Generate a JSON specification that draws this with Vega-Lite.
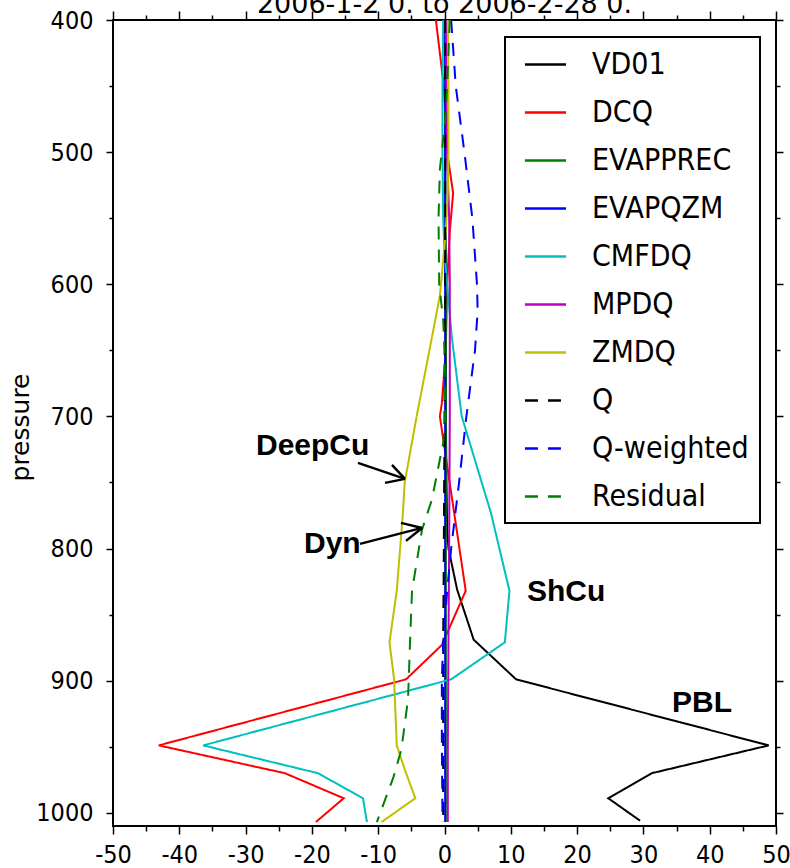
{
  "$schema": "https://vega.github.io/schema/vega-lite/v6.json",
  "width": 663,
  "height": 806,
  "autosize": {"type": "none"},
  "padding": {"left": 113, "top": 20, "right": 14, "bottom": 42},
  "background": "white",
  "title": {"text": "2006-1-2 0. to 2006-2-28 0.", "font": "DejaVu Sans", "fontSize": 27, "fontWeight": "normal", "color": "black", "anchor": "middle", "baseline": "alphabetic", "offset": 0, "dy": 32},
  "config": {
    "view": {"stroke": "black", "strokeWidth": 2},
    "axis": {"domain": false, "grid": false, "tickColor": "black", "tickWidth": 1.5, "labelColor": "black", "labelFont": "DejaVu Sans Condensed, DejaVu Sans", "labelFontSize": 25, "labelFlush": false, "labelOverlap": false},
    "legend": {"strokeColor": "black", "fillColor": "white", "padding": 11, "labelFont": "DejaVu Sans Condensed, DejaVu Sans", "labelFontSize": 30, "labelColor": "black", "labelOffset": 30, "rowPadding": 16, "symbolType": "M-1.37,0H1.37", "symbolSize": 900, "symbolStrokeWidth": 2.5, "symbolOffset": 13, "labelLimit": 400}
  },
  "datasets": {
    "profiles": [
      {"series": "VD01", "p": 400, "v": 0.0}, {"series": "VD01", "p": 450, "v": 0.1}, {"series": "VD01", "p": 500, "v": 0.1}, {"series": "VD01", "p": 550, "v": 0.1}, {"series": "VD01", "p": 600, "v": 0.2}, {"series": "VD01", "p": 650, "v": 0.2}, {"series": "VD01", "p": 700, "v": 0.2}, {"series": "VD01", "p": 750, "v": 0.3}, {"series": "VD01", "p": 786, "v": 0.4}, {"series": "VD01", "p": 800, "v": 0.6}, {"series": "VD01", "p": 831, "v": 1.9}, {"series": "VD01", "p": 869, "v": 4.4}, {"series": "VD01", "p": 899, "v": 10.8}, {"series": "VD01", "p": 949, "v": 48.9}, {"series": "VD01", "p": 970, "v": 31.3}, {"series": "VD01", "p": 989, "v": 24.7}, {"series": "VD01", "p": 1006, "v": 29.5},
      {"series": "DCQ", "p": 400, "v": -1.3}, {"series": "DCQ", "p": 450, "v": -0.1}, {"series": "DCQ", "p": 500, "v": 0.4}, {"series": "DCQ", "p": 531, "v": 1.3}, {"series": "DCQ", "p": 560, "v": 0.8}, {"series": "DCQ", "p": 600, "v": 0.4}, {"series": "DCQ", "p": 650, "v": 0.2}, {"series": "DCQ", "p": 690, "v": -0.4}, {"series": "DCQ", "p": 700, "v": -0.7}, {"series": "DCQ", "p": 832, "v": 3.2}, {"series": "DCQ", "p": 873, "v": -0.4}, {"series": "DCQ", "p": 899, "v": -5.8}, {"series": "DCQ", "p": 949, "v": -43.1}, {"series": "DCQ", "p": 970, "v": -24.1}, {"series": "DCQ", "p": 989, "v": -15.2}, {"series": "DCQ", "p": 1007, "v": -19.4},
      {"series": "EVAPPREC", "p": 400, "v": 0.1}, {"series": "EVAPPREC", "p": 500, "v": 0.1}, {"series": "EVAPPREC", "p": 600, "v": 0.2}, {"series": "EVAPPREC", "p": 700, "v": 0.2}, {"series": "EVAPPREC", "p": 800, "v": 0.2}, {"series": "EVAPPREC", "p": 900, "v": 0.2}, {"series": "EVAPPREC", "p": 949, "v": 0.2}, {"series": "EVAPPREC", "p": 1007, "v": 0.2},
      {"series": "EVAPQZM", "p": 400, "v": 0.1}, {"series": "EVAPQZM", "p": 500, "v": 0.1}, {"series": "EVAPQZM", "p": 600, "v": 0.1}, {"series": "EVAPQZM", "p": 700, "v": 0.1}, {"series": "EVAPQZM", "p": 800, "v": 0.1}, {"series": "EVAPQZM", "p": 900, "v": 0.1}, {"series": "EVAPQZM", "p": 949, "v": 0.1}, {"series": "EVAPQZM", "p": 1007, "v": 0.1},
      {"series": "CMFDQ", "p": 400, "v": -0.2}, {"series": "CMFDQ", "p": 450, "v": -0.3}, {"series": "CMFDQ", "p": 500, "v": -0.3}, {"series": "CMFDQ", "p": 550, "v": -0.2}, {"series": "CMFDQ", "p": 576, "v": 0.0}, {"series": "CMFDQ", "p": 640, "v": 1.1}, {"series": "CMFDQ", "p": 700, "v": 2.6}, {"series": "CMFDQ", "p": 773, "v": 7.0}, {"series": "CMFDQ", "p": 832, "v": 9.8}, {"series": "CMFDQ", "p": 871, "v": 9.1}, {"series": "CMFDQ", "p": 899, "v": 1.0}, {"series": "CMFDQ", "p": 949, "v": -36.4}, {"series": "CMFDQ", "p": 970, "v": -19.1}, {"series": "CMFDQ", "p": 989, "v": -12.3}, {"series": "CMFDQ", "p": 1007, "v": -11.7},
      {"series": "MPDQ", "p": 400, "v": 0.2}, {"series": "MPDQ", "p": 500, "v": 0.4}, {"series": "MPDQ", "p": 550, "v": 0.7}, {"series": "MPDQ", "p": 600, "v": 0.8}, {"series": "MPDQ", "p": 700, "v": 0.8}, {"series": "MPDQ", "p": 800, "v": 0.7}, {"series": "MPDQ", "p": 871, "v": 0.6}, {"series": "MPDQ", "p": 949, "v": 0.5}, {"series": "MPDQ", "p": 1007, "v": 0.5},
      {"series": "ZMDQ", "p": 400, "v": 0.5}, {"series": "ZMDQ", "p": 450, "v": 0.6}, {"series": "ZMDQ", "p": 500, "v": 0.6}, {"series": "ZMDQ", "p": 530, "v": 0.5}, {"series": "ZMDQ", "p": 560, "v": 0.2}, {"series": "ZMDQ", "p": 609, "v": -0.7}, {"series": "ZMDQ", "p": 700, "v": -4.2}, {"series": "ZMDQ", "p": 750, "v": -6.0}, {"series": "ZMDQ", "p": 775, "v": -6.3}, {"series": "ZMDQ", "p": 832, "v": -7.2}, {"series": "ZMDQ", "p": 871, "v": -8.3}, {"series": "ZMDQ", "p": 899, "v": -7.6}, {"series": "ZMDQ", "p": 949, "v": -7.2}, {"series": "ZMDQ", "p": 970, "v": -5.8}, {"series": "ZMDQ", "p": 989, "v": -4.4}, {"series": "ZMDQ", "p": 1007, "v": -9.5},
      {"series": "Q", "p": 400, "v": 0.1}, {"series": "Q", "p": 500, "v": 0.1}, {"series": "Q", "p": 600, "v": 0.1}, {"series": "Q", "p": 700, "v": 0.0}, {"series": "Q", "p": 800, "v": -0.1}, {"series": "Q", "p": 871, "v": -0.2}, {"series": "Q", "p": 949, "v": -0.2}, {"series": "Q", "p": 1007, "v": -0.2},
      {"series": "Q-weighted", "p": 400, "v": 1.0}, {"series": "Q-weighted", "p": 450, "v": 1.7}, {"series": "Q-weighted", "p": 500, "v": 3.0}, {"series": "Q-weighted", "p": 550, "v": 4.2}, {"series": "Q-weighted", "p": 600, "v": 4.9}, {"series": "Q-weighted", "p": 620, "v": 5.0}, {"series": "Q-weighted", "p": 650, "v": 4.6}, {"series": "Q-weighted", "p": 700, "v": 3.3}, {"series": "Q-weighted", "p": 750, "v": 2.2}, {"series": "Q-weighted", "p": 800, "v": 1.0}, {"series": "Q-weighted", "p": 832, "v": 0.4}, {"series": "Q-weighted", "p": 871, "v": -0.2}, {"series": "Q-weighted", "p": 899, "v": -0.4}, {"series": "Q-weighted", "p": 949, "v": -0.4}, {"series": "Q-weighted", "p": 1007, "v": -0.3},
      {"series": "Residual", "p": 400, "v": 0.8}, {"series": "Residual", "p": 450, "v": 0.4}, {"series": "Residual", "p": 476, "v": 0.1}, {"series": "Residual", "p": 513, "v": -0.7}, {"series": "Residual", "p": 550, "v": -0.9}, {"series": "Residual", "p": 600, "v": -0.8}, {"series": "Residual", "p": 627, "v": -0.2}, {"series": "Residual", "p": 650, "v": 0.0}, {"series": "Residual", "p": 700, "v": 0.1}, {"series": "Residual", "p": 720, "v": -0.2}, {"series": "Residual", "p": 763, "v": -1.9}, {"series": "Residual", "p": 786, "v": -3.4}, {"series": "Residual", "p": 832, "v": -4.9}, {"series": "Residual", "p": 871, "v": -5.2}, {"series": "Residual", "p": 914, "v": -5.5}, {"series": "Residual", "p": 952, "v": -6.5}, {"series": "Residual", "p": 973, "v": -7.7}, {"series": "Residual", "p": 1007, "v": -10.2}
    ],
    "arrows": [
      {"x": -13.05, "p": 735.2, "x2": -5.96, "p2": 747.3},
      {"x": -8.97, "p": 750.3, "x2": -5.96, "p2": 747.3},
      {"x": -7.92, "p": 736.7, "x2": -5.96, "p2": 747.3},
      {"x": -12.74, "p": 796.5, "x2": -3.39, "p2": 784.4},
      {"x": -6.56, "p": 780.6, "x2": -3.39, "p2": 784.4},
      {"x": -5.81, "p": 794.2, "x2": -3.39, "p2": 784.4}
    ],
    "labels": [
      {"label": "DeepCu", "x": -28.43, "p": 729.1},
      {"label": "Dyn", "x": -21.19, "p": 803.3},
      {"label": "ShCu", "x": 12.44, "p": 839.6},
      {"label": "PBL", "x": 34.31, "p": 923.6}
    ]
  },
  "layer": [
    {
      "data": {"name": "profiles"},
      "mark": {"type": "line", "strokeWidth": 2, "clip": true},
      "encoding": {
        "x": {"field": "v", "type": "quantitative", "scale": {"domain": [-50, 50], "nice": false, "zero": false},
          "axis": {"orient": "bottom", "title": null, "values": [-50, -45, -40, -35, -30, -25, -20, -15, -10, -5, 0, 5, 10, 15, 20, 25, 30, 35, 40, 45, 50], "labelExpr": "datum.value % 10 === 0 ? '' + datum.value : ''", "tickSize": {"condition": {"test": "datum.value % 10 === 0", "value": 8}, "value": 5}, "labelPadding": 8}},
        "y": {"field": "p", "type": "quantitative", "scale": {"domain": [400, 1010], "reverse": true, "nice": false, "zero": false},
          "axis": {"orient": "left", "title": "pressure", "values": [400, 450, 500, 550, 600, 650, 700, 750, 800, 850, 900, 950, 1000], "labelExpr": "datum.value % 100 === 0 ? '' + datum.value : ''", "tickSize": {"condition": {"test": "datum.value % 100 === 0", "value": 7}, "value": 4}, "labelPadding": 13, "titleFont": "DejaVu Sans", "titleFontSize": 25, "titleFontWeight": "normal", "titleColor": "black", "titleAngle": 270, "titleX": -93, "titleY": 407, "titleAlign": "center", "titleBaseline": "middle"}},
        "color": {"field": "series", "type": "nominal",
          "scale": {"domain": ["VD01", "DCQ", "EVAPPREC", "EVAPQZM", "CMFDQ", "MPDQ", "ZMDQ", "Q", "Q-weighted", "Residual"],
            "range": ["#000000", "#ff0000", "#008000", "#0000ff", "#00bfbf", "#bf00bf", "#bfbf00", "#000000", "#0000ff", "#008000"]},
          "legend": {"title": null, "orient": "none", "legendX": 392, "legendY": 17, "encode": {"legend": {"update": {"strokeWidth": {"value": 2}}}}}},
        "strokeDash": {"field": "series", "type": "nominal",
          "scale": {"domain": ["VD01", "DCQ", "EVAPPREC", "EVAPQZM", "CMFDQ", "MPDQ", "ZMDQ", "Q", "Q-weighted", "Residual"],
            "range": [[1, 0], [1, 0], [1, 0], [1, 0], [1, 0], [1, 0], [1, 0], [13, 10], [13, 10], [13, 10]]},
          "legend": {"title": null, "orient": "none", "legendX": 392, "legendY": 17}},
        "order": {"field": "p", "type": "quantitative"}
      }
    },
    {
      "data": {"name": "arrows"},
      "mark": {"type": "rule", "strokeWidth": 2.5, "color": "black"},
      "encoding": {
        "x": {"field": "x", "type": "quantitative",
          "axis": {"orient": "top", "title": null, "labels": false, "values": [-50, -45, -40, -35, -30, -25, -20, -15, -10, -5, 0, 5, 10, 15, 20, 25, 30, 35, 40, 45, 50], "tickSize": {"condition": {"test": "datum.value % 10 === 0", "value": 9}, "value": 5}}},
        "y": {"field": "p", "type": "quantitative",
          "axis": {"orient": "right", "title": null, "labels": false, "values": [400, 450, 500, 550, 600, 650, 700, 750, 800, 850, 900, 950, 1000], "tickSize": {"condition": {"test": "datum.value % 100 === 0", "value": 7}, "value": 4}}},
        "x2": {"field": "x2"},
        "y2": {"field": "p2"}
      }
    },
    {
      "data": {"name": "labels"},
      "mark": {"type": "text", "font": "Liberation Sans", "fontWeight": "bold", "fontSize": 30, "color": "black", "align": "left", "baseline": "alphabetic"},
      "encoding": {
        "x": {"field": "x", "type": "quantitative", "axis": null},
        "y": {"field": "p", "type": "quantitative", "axis": null},
        "text": {"field": "label"}
      }
    }
  ]
}
